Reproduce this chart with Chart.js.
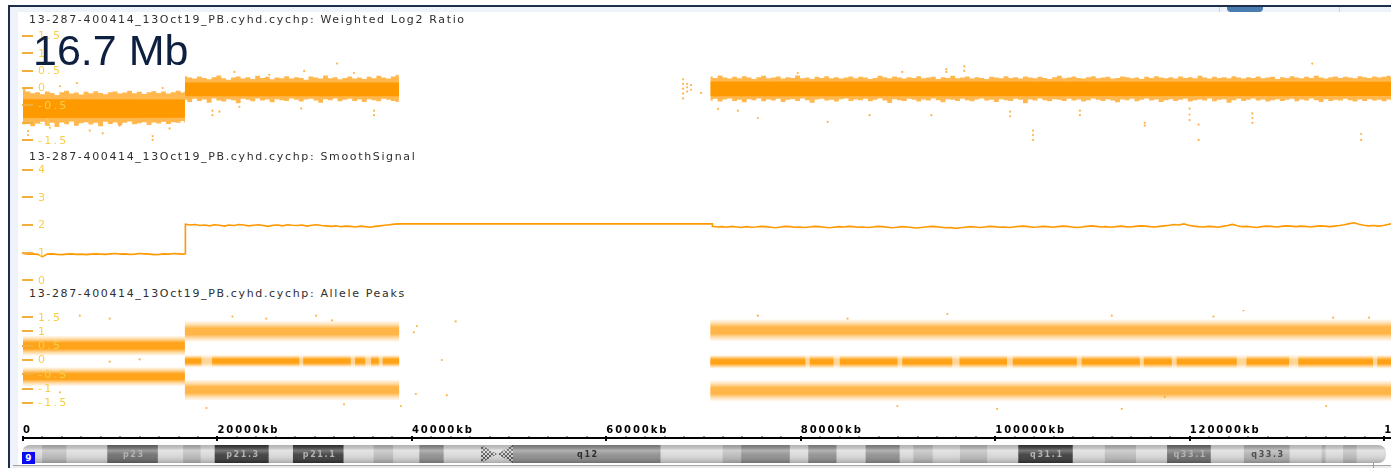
<!DOCTYPE html>
<html lang="en">
<head>
<meta charset="utf-8">
<title>Chromosome 9 – cychp tracks</title>
<script src="https://cdn.jsdelivr.net/npm/chart.js@4.4.1/dist/chart.umd.min.js"></script>
<style>
  html, body { margin:0; padding:0; background:#fff; }
  body { width:1391px; height:468px; overflow:hidden; position:relative; }
  .abs { position:absolute; }
  canvas { position:absolute; left:0; z-index:1; }
  .title { position:absolute; left:29px; z-index:3; font-family:"DejaVu Sans",sans-serif; font-size:11px;
           line-height:11px; color:#2e2e2e; white-space:nowrap; }
  .size-label { position:absolute; left:33px; top:29px; z-index:3; font-family:"Liberation Sans",Arial,sans-serif;
           font-size:43px; line-height:43px; color:#0e2040; white-space:nowrap; }
  .chr-badge { position:absolute; left:22px; top:452px; width:13px; height:12px; z-index:3; background:#0a0af2;
           color:#fff; font:bold 9px "DejaVu Sans",sans-serif; line-height:12px; text-align:center; }
</style>
</head>
<body>
  <!-- window frame -->
  <div class="abs" style="left:8px;top:5px;width:1383px;height:2px;background:#1d2d4a"></div>
  <div class="abs" style="left:9px;top:7px;width:1382px;height:5px;background:#edf3f9"></div>
  <div class="abs" style="left:1219px;top:7px;width:1px;height:5px;background:#c9d2dc"></div>
  <div class="abs" style="left:1339px;top:7px;width:1px;height:5px;background:#c9d2dc"></div>
  <div class="abs" style="left:1227px;top:7px;width:36px;height:5px;background:#4b7caf;border-radius:0 0 4px 4px"></div>
  <div class="abs" style="left:8px;top:5px;width:2px;height:463px;background:#1d2d4a"></div>
  <div class="abs" style="left:10px;top:12px;width:8px;height:456px;background:#edf3f9"></div>
  <div class="abs" style="left:13px;top:465px;width:1378px;height:1px;background:#a3a3a3"></div>
  <div class="abs" style="left:13px;top:466px;width:1378px;height:2px;background:#ececec"></div>
  <div class="abs" style="left:1373px;top:461px;width:1px;height:7px;background:#9a9a9a"></div>

  <canvas id="log2"   width="1396" height="130" style="top:23px"></canvas>
  <canvas id="smooth" width="1396" height="122" style="top:164px"></canvas>
  <canvas id="allele" width="1396" height="108" style="top:306px"></canvas>
  <canvas id="axis"   width="1396" height="23"  style="top:418px"></canvas>
  <canvas id="ideo"   width="1396" height="24"  style="top:442px"></canvas>

  <div class="title" style="top:14px">13-287-400414_13Oct19_PB.cyhd.cychp: Weighted Log2 Ratio</div>
  <div class="title" style="top:151px">13-287-400414_13Oct19_PB.cyhd.cychp: SmoothSignal</div>
  <div class="title" style="top:288px">13-287-400414_13Oct19_PB.cyhd.cychp: Allele Peaks</div>
  <div class="size-label">16.7 Mb</div>
  <div class="chr-badge">9</div>

<script>
// ---------------- chromosome 9 coordinates (kb) ----------------
const CHROM_END_KB = 141213;
const segStartKb = [0, 16700, 70900];          // copy-number segments
const segEndKb   = [16700, 38800, 141213];
const SAMPLE_STEP_KB = 500;                     // spacing of the envelope / smooth samples

// ---------------- Weighted Log2 Ratio ----------------
// dense core of the probe cloud per segment: [value at start, value at end]
const log2CoreHi = [[-0.32, -0.33], [0.16, 0.16], [0.19, 0.18]];
const log2CoreLo = [[-0.86, -0.85], [-0.24, -0.24], [-0.24, -0.23]];
// outer envelope of the cloud, one value per 500 kb sample
const log2FringeHi = [
  [-0.02,-0.1,-0.15,-0.12,-0.18,-0.1,-0.14,-0.2,-0.12,-0.08,-0.16,-0.13,-0.19,-0.11,-0.15,-0.09,-0.14,-0.18,-0.12,-0.1,
   -0.16,-0.13,-0.08,-0.15,-0.11,-0.17,-0.12,-0.09,-0.14,-0.1,-0.16,-0.12,-0.08,-0.13,-0.1],
  [0.34,0.3,0.27,0.33,0.29,0.25,0.31,0.36,0.28,0.24,0.3,0.33,0.27,0.31,0.26,0.35,0.29,0.32,0.25,0.3,0.28,0.34,0.27,
   0.31,0.29,0.24,0.33,0.3,0.27,0.36,0.28,0.31,0.25,0.29,0.33,0.27,0.3,0.26,0.32,0.28,0.35,0.3,0.27,0.33,0.38,0.3],
  [0.33,0.29,0.36,0.3,0.27,0.32,0.28,0.34,0.3,0.26, 0.31,0.35,0.28,0.3,0.33,0.27,0.31,0.29,0.36,0.28,
   0.3,0.26,0.32,0.29,0.34,0.28,0.31,0.27,0.3,0.33, 0.28,0.32,0.3,0.26,0.29,0.35,0.31,0.28,0.33,0.3,
   0.27,0.31,0.29,0.34,0.28,0.3,0.32,0.26,0.31,0.29, 0.35,0.28,0.3,0.33,0.27,0.31,0.29,0.26,0.32,0.3,
   0.28,0.34,0.29,0.31,0.27,0.33,0.3,0.28,0.32,0.29, 0.26,0.31,0.35,0.28,0.3,0.33,0.29,0.27,0.31,0.34,
   0.28,0.3,0.32,0.27,0.29,0.33,0.31,0.28,0.3,0.26, 0.32,0.29,0.34,0.3,0.28,0.31,0.27,0.33,0.29,0.31,
   0.28,0.35,0.3,0.27,0.32,0.29,0.31,0.28,0.34,0.3, 0.27,0.31,0.29,0.33,0.28,0.3,0.32,0.26,0.31,0.29,
   0.34,0.3,0.28,0.32,0.29,0.35,0.3,0.27,0.31,0.33, 0.29,0.32,0.3,0.28,0.34,0.31,0.29,0.33,0.3,0.32, 0.35,0.31]
];
const log2FringeLo = [
  [-1.05,-0.98,-1.1,-1.02,-0.97,-1.06,-1.0,-1.12,-0.99,-1.04,-0.96,-1.08,-1.01,-0.98,-1.05,-1.0,-1.1,-0.97,-1.03,-0.99,
   -1.07,-1.0,-0.96,-1.04,-1.01,-0.98,-1.06,-0.99,-1.02,-0.97,-1.03,-0.98,-1.0,-0.95,-0.99],
  [-0.34,-0.4,-0.31,-0.37,-0.33,-0.42,-0.3,-0.36,-0.39,-0.32,-0.35,-0.44,-0.31,-0.34,-0.38,-0.3,-0.36,-0.33,-0.41,-0.32,
   -0.35,-0.37,-0.3,-0.34,-0.39,-0.33,-0.31,-0.36,-0.42,-0.32,-0.35,-0.3,-0.38,-0.34,-0.31,-0.37,-0.33,-0.4,-0.32,-0.35,
   -0.38,-0.31,-0.34,-0.37,-0.4,-0.33],
  [-0.36,-0.31,-0.39,-0.33,-0.3,-0.37,-0.34,-0.41,-0.32,-0.35, -0.3,-0.38,-0.33,-0.36,-0.31,-0.4,-0.34,-0.32,-0.37,-0.3,
   -0.35,-0.42,-0.33,-0.31,-0.36,-0.34,-0.39,-0.32,-0.3,-0.37, -0.33,-0.35,-0.31,-0.38,-0.34,-0.3,-0.36,-0.43,-0.32,-0.35,
   -0.37,-0.31,-0.34,-0.39,-0.33,-0.36,-0.3,-0.35,-0.41,-0.32, -0.34,-0.37,-0.31,-0.35,-0.38,-0.33,-0.3,-0.36,-0.34,-0.4,
   -0.32,-0.35,-0.37,-0.31,-0.34,-0.44,-0.33,-0.36,-0.3,-0.35, -0.38,-0.32,-0.34,-0.37,-0.31,-0.36,-0.33,-0.39,-0.35,-0.3,
   -0.34,-0.37,-0.32,-0.36,-0.41,-0.33,-0.35,-0.31,-0.38,-0.34, -0.3,-0.36,-0.33,-0.4,-0.35,-0.32,-0.37,-0.34,-0.31,-0.39,
   -0.35,-0.33,-0.36,-0.3,-0.38,-0.34,-0.32,-0.42,-0.35,-0.31, -0.37,-0.34,-0.3,-0.36,-0.33,-0.39,-0.35,-0.32,-0.37,-0.34,
   -0.31,-0.38,-0.33,-0.36,-0.3,-0.35,-0.4,-0.32,-0.37,-0.34, -0.36,-0.31,-0.35,-0.39,-0.33,-0.37,-0.32,-0.36,-0.34,-0.38,
   -0.33,-0.36]
];
// isolated probes outside the main cloud: [kb, log2 ratio]
const log2Outliers = [
  [514,-1.35],[514,-1.24],[2777,-1.14],[3805,0.05],[5554,0.14],[6891,-1.22],[8228,-1.3],[9977,-1.08],
  [13370,-1.49],[13370,-1.38],[14399,0.0],[15119,-1.16],
  [19541,-0.78],[19541,-0.65],[20261,-0.68],[21804,0.46],[22318,-0.54],[25404,0.38],[28695,-0.59],[29004,0.49],
  [32398,0.7],[34146,0.43],[36203,-0.78],[36203,-0.65],
  [68087,0.25],[68087,0.12],[68087,-0.02],[68087,-0.16],[68087,-0.3],[68499,0.12],[68499,0.02],[68499,-0.1],
  [68910,0.08],[68910,-0.05],[69938,-0.14],
  [71700,-0.6],[73745,-0.65],[75800,-0.86],[79915,0.43],[83000,-0.97],[87320,-0.78],[90700,0.46],[93696,-0.78],
  [95239,0.54],[95239,0.46],[97090,0.62],[97090,0.49],[101822,-0.68],[101822,-0.81],[104187,-1.22],[104187,-1.35],
  [104187,-1.49],[109021,-0.78],[109021,-0.65],[115707,-1.0],[115707,-1.08],[120336,-0.59],[120336,-0.76],
  [120336,-0.92],[121261,-1.05],[121261,-1.49],[126815,-0.73],[126815,-0.86],[126815,-1.0],[132987,0.7],
  [138026,-1.32],[138026,-1.49]
];
const log2TickValues = [1.5, 1, 0.5, 0, -0.5, -1, -1.5];
const log2TickLabels = ['1.5', '1', '0.5', '0', '-0.5', '-1', '-1.5'];

// ---------------- SmoothSignal (copy number) ----------------
const smoothSeg = [
  [0.97,0.95,0.96,0.94,0.86,0.95,0.96,0.94,0.93,0.95,0.96,0.94,0.95,0.93,0.95,0.96,0.95,0.94,0.96,0.97,
   0.95,0.96,0.94,0.95,0.97,0.96,0.95,0.93,0.94,0.96,0.95,0.97,0.96,0.95,0.96],
  [2.03,2.0,2.02,1.98,2.0,1.97,2.01,1.99,1.96,2.0,1.98,2.02,2.0,1.97,1.99,2.01,1.98,1.95,1.99,2.0,1.97,2.01,1.99,
   1.98,2.0,1.96,1.99,2.01,1.98,1.97,1.95,1.97,1.94,1.96,1.95,1.93,1.96,1.94,1.92,1.95,1.97,1.99,2.01,2.03,2.04,2.04],
  [1.95,1.93,1.94,1.92,1.95,1.93,1.91,1.94,1.92,1.93, 1.95,1.94,1.92,1.9,1.93,1.95,1.94,1.92,1.93,1.91,
   1.93,1.95,1.94,1.92,1.9,1.92,1.94,1.93,1.95,1.94, 1.92,1.93,1.91,1.93,1.95,1.94,1.92,1.9,1.92,1.94,
   1.93,1.91,1.89,1.91,1.93,1.95,1.94,1.92,1.9,1.91, 1.88,1.9,1.92,1.94,1.93,1.91,1.93,1.95,1.94,1.92,
   1.93,1.91,1.93,1.95,1.96,1.94,1.92,1.93,1.95,1.94, 1.92,1.94,1.96,1.95,1.93,1.91,1.93,1.95,1.97,1.95,
   1.93,1.94,1.92,1.94,1.96,1.94,1.93,1.95,1.97,1.96, 1.94,1.93,1.95,1.97,1.99,2.02,2.0,2.04,1.99,1.96,
   1.94,1.93,1.95,1.94,1.92,1.95,1.98,2.02,1.97,1.94, 1.95,1.93,1.91,1.94,1.96,1.95,1.93,1.95,1.97,1.96,
   1.94,1.96,1.95,1.93,1.95,1.97,1.96,1.94,1.96,1.98, 2.01,2.05,2.08,2.03,1.99,1.97,1.98,1.96,1.98,2.02,
   2.06,2.07]
];
// no probes across the pericentromeric gap: the signal holds a constant value there
const smoothGapKb  = [38800, 70900];
const smoothGapVal = [2.04, 2.04];
const smoothTickValues = [4, 3, 2, 1, 0];
const smoothTickLabels = ['4', '3', '2', '1', '0'];

// ---------------- Allele Peaks ----------------
// one entry per allele band: segment index, band centre and half spread
const alleleBandSeg    = [0, 0, 1, 1, 1, 2, 2, 2];
const alleleBandKind   = ['het', 'het', 'outer', 'mid', 'outer', 'outer', 'mid', 'outer'];
const alleleBandCenter = [0.5, -0.58, 1.0, -0.04, -1.05, 1.04, -0.06, -1.08];
const alleleBandHalf   = [0.36, 0.34, 0.38, 0.24, 0.38, 0.4, 0.26, 0.38];
// sparse stretches in the central (AB) band, kb
const alleleMidGapsKb = [
  [18400,19500],[28500,28900],[33800,34250],[35300,35900],[36700,37100],
  [80700,81150],[83600,84250],[90200,90700],[95850,96600],[101500,102100],[108700,109200],
  [115200,115600],[118500,119000],[125200,126200],[130600,131550],[139250,139700]
];
const alleleOutliers = [
  [5862,1.55],[8948,1.45],[3805,-1.13],[8950,-0.06],[12030,0.02],
  [21599,1.52],[25095,1.45],[30238,1.55],[31884,1.39],[18925,-1.68],[26124,-1.84],[33118,-1.55],
  [40318,0.97],[40626,1.19],[43197,0.0],[43711,-1.23],[44637,1.35],[38980,-1.61],[40523,-1.19],
  [75800,1.55],[85057,1.45],[95342,1.61],[90199,-1.61],[100484,-1.71],
  [112312,1.55],[125888,1.74],[122803,1.52],[135144,1.48],[138847,1.48],[113340,-1.71],[117763,-1.29],[134423,-1.61]
];
const alleleTickValues = [1.5, 1, 0.5, 0, -0.5, -1, -1.5];
const alleleTickLabels = ['1.5', '1', '0.5', '0', '-0.5', '-1', '-1.5'];

// ---------------- position axis ----------------
const axisMinorStepKb = 2000;
const axisLabelStepKb = 20000;
const axisLastTickKb = 140000;

// ---------------- cytobands ----------------
const bandStartKb = [0,2000,4500,8700,13900,16500,18300,19750,25300,27800,33000,36100,38100,40800,43300,47100,50400,
  65600,72000,73900,78900,80800,83700,86700,90200,91600,93600,96400,99200,102400,108000,111300,114500,117700,122200,
  125600,130300,133600,134000,135800,137200];
const bandEndKb = [2000,4500,8700,13900,16500,18300,19750,25300,27800,33000,36100,38100,40800,43300,47100,50400,65600,
  72000,73900,78900,80800,83700,86700,90200,91600,93600,96400,99200,102400,108000,111300,114500,117700,122200,125600,
  130300,133600,134000,135800,137200,140200];
const bandStain = ['gneg','gpos25','gneg','gpos75','gneg','gpos25','gneg','gpos100','gneg','gpos100','gneg','gpos25',
  'gneg','gpos50','gneg','acen','gvar','gneg','gpos25','gpos50','gneg','gpos50','gneg','gpos50','gneg','gpos25','gneg',
  'gpos25','gneg','gpos100','gneg','gpos25','gneg','gpos75','gneg','gpos33','gneg','gpos25','gneg','gpos25','gneg'];
const bandName = ['','','','p23','','','','p21.3','','p21.1','','','','','','','q12','','','','','','','','','','','',
  '','q31.1','','','','q33.1','','q33.3','','','','',''];

// ---------------- styling ----------------
const ORANGE = '#ff9900';
const FRINGE = 'rgba(255,155,10,0.72)';
const OUTLIER = 'rgba(255,160,30,0.8)';
const TICK_DASH = '#f2ae3c';
const TICK_TEXT = '#f6cf4c';
const GRID_DOT = '#fce6a0';
const ZERO_LINE = '#b6b6b6';
const STAIN_COLOR = { gneg:'#d7d7d7', gpos25:'#b9b9b9', gpos33:'#acacac', gpos50:'#8e8e8e', gpos75:'#6b6b6b',
  gpos100:'#383838', gvar:'#8c8c8c', acen:'#d7d7d7' };
const STAIN_TEXT = { gpos75:'#b3b3b3', gpos100:'#b3b3b3', gvar:'#2f2f2f', gpos33:'#505050' };
const BAND_ALPHA = { het:1.0, outer:0.8, mid:0.95 };
const MID_BASE_ALPHA = 0.45;
const PAD_LEFT = 23;
const IDEO_H = 18;
const TITLE_INK_WIDTH = 435;

// ---------------- helpers ----------------
function segSeries(seg, vals, step) {
  const s = segStartKb[seg], e = segEndKb[seg];
  return vals.map((v, i) => ({ x: Math.min(s + i * step, e), y: v }));
}
function segEnds(seg, pair) {
  return [{ x: segStartKb[seg], y: pair[0] }, { x: segEndKb[seg], y: pair[1] }];
}
function fillPair(loPts, hiPts, color, stepped) {
  return [
    { type:'line', data: loPts, borderWidth: 0, borderColor: 'rgba(0,0,0,0)', backgroundColor: 'rgba(0,0,0,0)',
      pointRadius: 0, fill: false, stepped: stepped || false },
    { type:'line', data: hiPts, borderWidth: 0, borderColor: 'rgba(0,0,0,0)', backgroundColor: color,
      pointRadius: 0, fill: '-1', stepped: stepped || false }
  ];
}
function pointsOf(list) { return list.map(([x, y]) => ({ x, y })); }

function xHidden() { return { type:'linear', min:0, max:CHROM_END_KB, bounds:'data', display:false }; }

function tickLabelPlugin(values, labels) {
  return {
    id: 'trackTicks',
    afterDatasetsDraw(chart) {
      const { ctx, chartArea, scales: { y } } = chart;
      ctx.save();
      ctx.font = '11px "DejaVu Sans"';
      ctx.letterSpacing = '2.3px';
      ctx.textBaseline = 'middle';
      ctx.textAlign = 'left';
      values.forEach((v, i) => {
        const py = y.getPixelForValue(v);
        ctx.fillStyle = TICK_DASH;
        ctx.fillRect(chartArea.left - 1, Math.round(py) - 1, 11, 2);
        ctx.fillStyle = TICK_TEXT;
        ctx.fillText(labels[i], chartArea.left + 15, py + 0.5);
      });
      ctx.restore();
    }
  };
}

function baseOptions(yCfg) {
  return {
    responsive: false, animation: false, events: [], devicePixelRatio: 1,
    layout: { padding: { left: PAD_LEFT, right: 0, top: 0, bottom: 0 } },
    plugins: { legend: { display: false }, tooltip: { enabled: false }, colors: { enabled: false } },
    scales: { x: xHidden(), y: yCfg }
  };
}

// ---------------- Weighted Log2 Ratio track ----------------
(function () {
  const sets = [{
    type: 'scatter', data: pointsOf(log2Outliers), pointRadius: 1.1, pointBackgroundColor: OUTLIER,
    pointBorderWidth: 0, showLine: false
  }];
  for (let s = 0; s < 3; s++) sets.push(...fillPair(segEnds(s, log2CoreLo[s]), segEnds(s, log2CoreHi[s]), ORANGE));
  for (let s = 0; s < 3; s++) sets.push(...fillPair(
    segSeries(s, log2FringeLo[s], SAMPLE_STEP_KB), segSeries(s, log2FringeHi[s], SAMPLE_STEP_KB), FRINGE, 'middle'));

  new Chart(document.getElementById('log2'), {
    type: 'line',
    data: { datasets: sets },
    options: baseOptions({
      type: 'linear', min: -1.75, max: 1.75, bounds: 'data', display: true,
      ticks: { display: false, stepSize: 0.5, includeBounds: false },
      grid: { drawTicks: false, lineWidth: 2,
              color: (c) => (c.tick && c.tick.value === 0 ? ZERO_LINE : 'rgba(0,0,0,0)') },
      border: { display: false },
      afterFit: (s) => { s.width = 0; }
    }),
    plugins: [tickLabelPlugin(log2TickValues, log2TickLabels)]
  });
})();

// ---------------- SmoothSignal track ----------------
(function () {
  const pts = [
    ...segSeries(0, smoothSeg[0], SAMPLE_STEP_KB),
    ...segSeries(1, smoothSeg[1], SAMPLE_STEP_KB),
    ...smoothGapKb.map((x, i) => ({ x, y: smoothGapVal[i] })),
    ...segSeries(2, smoothSeg[2], SAMPLE_STEP_KB)
  ];
  new Chart(document.getElementById('smooth'), {
    type: 'line',
    data: { datasets: [{ data: pts, borderColor: ORANGE, borderWidth: 1.6, pointRadius: 0, fill: false }] },
    options: baseOptions({
      type: 'linear', min: -0.2, max: 4.2, bounds: 'data', display: true,
      ticks: { display: false, stepSize: 1, includeBounds: false },
      grid: { drawTicks: false, lineWidth: 2,
              color: (c) => (c.tick && Number.isInteger(c.tick.value) ? GRID_DOT : 'rgba(0,0,0,0)') },
      border: { display: false, dash: [2, 12], dashOffset: 1.7 },
      afterFit: (s) => { s.width = 0; }
    }),
    plugins: [tickLabelPlugin(smoothTickValues, smoothTickLabels)]
  });
})();

// ---------------- Allele Peaks track ----------------
(function () {
  function bandGradient(chart, c, h, a) {
    const y = chart.scales.y;
    const top = y.getPixelForValue(c + h), bot = y.getPixelForValue(c - h);
    const g = chart.ctx.createLinearGradient(0, top, 0, bot);
    const col = (k) => 'rgba(255,153,0,' + (a * k).toFixed(3) + ')';
    g.addColorStop(0, col(0)); g.addColorStop(0.18, col(0.38)); g.addColorStop(0.36, col(0.9));
    g.addColorStop(0.64, col(0.9)); g.addColorStop(0.82, col(0.38)); g.addColorStop(1, col(0));
    return g;
  }
  function bandLine(pts, c, h, a) {
    return {
      type: 'line', data: pts, pointRadius: 0, fill: false, borderCapStyle: 'butt',
      borderWidth: (ctx) => {
        const y = ctx.chart.scales.y;
        return y ? Math.abs(y.getPixelForValue(c - h) - y.getPixelForValue(c + h)) : 1;
      },
      borderColor: (ctx) => (ctx.chart.chartArea ? bandGradient(ctx.chart, c, h, a) : 'rgba(0,0,0,0)')
    };
  }
  function bandSets(i) {
    const seg = alleleBandSeg[i], c = alleleBandCenter[i], h = alleleBandHalf[i];
    const kind = alleleBandKind[i], a = BAND_ALPHA[kind];
    const end = segEndKb[seg];
    let x = segStartKb[seg];
    const full = [{ x, y: c }, { x: end, y: c }];
    if (kind !== 'mid') return [bandLine(full, c, h, a)];
    const pts = [];
    alleleMidGapsKb.filter((g) => g[0] >= x && g[1] <= end).forEach((g) => {
      pts.push({ x, y: c }, { x: g[0], y: c }, { x: (g[0] + g[1]) / 2, y: null });
      x = g[1];
    });
    pts.push({ x, y: c }, { x: end, y: c });
    // dense stretches on top of a faint continuous cloud
    return [bandLine(pts, c, h * 0.85, a), bandLine(full, c, h, MID_BASE_ALPHA)];
  }
  const sets = [{
    type: 'scatter', data: pointsOf(alleleOutliers), pointRadius: 1.1, pointBackgroundColor: OUTLIER,
    pointBorderWidth: 0, showLine: false
  }];
  alleleBandCenter.forEach((_, i) => sets.push(...bandSets(i)));

  new Chart(document.getElementById('allele'), {
    type: 'line',
    data: { datasets: sets },
    options: baseOptions({ type: 'linear', min: -1.75, max: 1.75, bounds: 'data', display: false }),
    plugins: [tickLabelPlugin(alleleTickValues, alleleTickLabels)]
  });
})();

// ---------------- kb axis ----------------
(function () {
  const isLabelTick = (v) => v <= axisLastTickKb && v % axisLabelStepKb === 0;
  new Chart(document.getElementById('axis'), {
    type: 'line',
    data: { datasets: [] },
    options: {
      responsive: false, animation: false, events: [], devicePixelRatio: 1,
      layout: { padding: { left: PAD_LEFT, right: 0, top: 6, bottom: 0 } },
      plugins: { legend: { display: false }, tooltip: { enabled: false }, colors: { enabled: false } },
      scales: {
        x: {
          type: 'linear', position: 'top', min: 0, max: CHROM_END_KB, bounds: 'data',
          afterFit: (s) => { s.height = 14; },
          // a tick every 2000 kb from the chromosome start, closed by the chromosome end
          afterBuildTicks: (s) => {
            const t = [];
            for (let v = 0; v <= axisLastTickKb; v += axisMinorStepKb) t.push({ value: v });
            t.push({ value: CHROM_END_KB });
            s.ticks = t;
          },
          ticks: {
            autoSkip: false, maxRotation: 0, minRotation: 0,
            align: 'start', padding: 0, color: '#000',
            font: { family: 'DejaVu Sans', size: 10, weight: 'bold' },
            callback: (v) => (isLabelTick(v) ? (v === 0 ? '0' : v + 'kb') : '')
          },
          grid: {
            drawOnChartArea: true, drawTicks: true, tickLength: 2,
            color: (c) => (c.tick && isLabelTick(c.tick.value) ? '#000' : 'rgba(0,0,0,0)'),
            lineWidth: 2,
            tickColor: (c) => (c.tick && isLabelTick(c.tick.value) ? '#000' : '#3a3a3a'),
            tickWidth: (c) => (c.tick && isLabelTick(c.tick.value) ? 2 : 1)
          },
          border: { display: true, color: '#000', width: 2 }
        },
        y: { display: false }
      }
    },
    plugins: [{ id: 'labelSpacing', beforeDraw(chart) { chart.ctx.letterSpacing = '1.9px'; } }]
  });
})();

// ---------------- ideogram ----------------
(function () {
  function capsule(ctx, x0, top, w, h, r) {
    ctx.beginPath();
    ctx.moveTo(x0 + r, top);
    ctx.lineTo(x0 + w - r, top);
    ctx.arcTo(x0 + w, top, x0 + w, top + r, r);
    ctx.lineTo(x0 + w, top + h - r);
    ctx.arcTo(x0 + w, top + h, x0 + w - r, top + h, r);
    ctx.lineTo(x0 + r, top + h);
    ctx.arcTo(x0, top + h, x0, top + h - r, r);
    ctx.lineTo(x0, top + r);
    ctx.arcTo(x0, top, x0 + r, top, r);
    ctx.closePath();
  }
  function hatch(ctx) {
    const p = document.createElement('canvas');
    p.width = 4; p.height = 4;
    const g = p.getContext('2d');
    g.fillStyle = '#cfcfcf'; g.fillRect(0, 0, 4, 4);
    g.strokeStyle = '#505050'; g.lineWidth = 1;
    g.beginPath(); g.moveTo(0, 4); g.lineTo(4, 0); g.moveTo(0, 0); g.lineTo(4, 4); g.stroke();
    return ctx.createPattern(p, 'repeat');
  }
  const ideoPlugin = {
    id: 'ideogram',
    beforeDatasetsDraw(chart) {
      const { ctx, scales: { x, y } } = chart;
      const x0 = x.getPixelForValue(bandStartKb[0]);
      const x1 = x.getPixelForValue(bandEndKb[bandEndKb.length - 1]);
      const top = y.getPixelForValue(0) - IDEO_H / 2;
      ctx.save();
      capsule(ctx, x0 - 1, top, x1 - x0 + 1, IDEO_H, 8);
      ctx.clip();
    },
    afterDatasetsDraw(chart) {
      const { ctx, scales: { x, y } } = chart;
      const yc = y.getPixelForValue(0), top = yc - IDEO_H / 2, bot = yc + IDEO_H / 2;
      // centromere
      bandStain.forEach((s, i) => {
        if (s !== 'acen') return;
        const a = x.getPixelForValue(bandStartKb[i]), b = x.getPixelForValue(bandEndKb[i]), m = (a + b) / 2;
        ctx.beginPath();
        ctx.moveTo(a, top); ctx.lineTo(m, yc); ctx.lineTo(b, top);
        ctx.lineTo(b, bot); ctx.lineTo(m, yc); ctx.lineTo(a, bot); ctx.closePath();
        ctx.fillStyle = hatch(ctx);
        ctx.fill();
      });
      // rounded shading
      const g = ctx.createLinearGradient(0, top, 0, bot);
      g.addColorStop(0, 'rgba(0,0,0,0.16)');
      g.addColorStop(0.3, 'rgba(255,255,255,0.32)');
      g.addColorStop(0.55, 'rgba(255,255,255,0.08)');
      g.addColorStop(1, 'rgba(0,0,0,0.22)');
      ctx.fillStyle = g;
      ctx.fillRect(x.getPixelForValue(0) - 1, top, x.getPixelForValue(CHROM_END_KB), IDEO_H);
      ctx.restore();
      // band names
      ctx.save();
      ctx.font = 'bold 8px "DejaVu Sans"';
      ctx.letterSpacing = '1.6px';
      ctx.textAlign = 'center';
      ctx.textBaseline = 'middle';
      bandName.forEach((n, i) => {
        if (!n) return;
        const cx = (x.getPixelForValue(bandStartKb[i]) + x.getPixelForValue(bandEndKb[i])) / 2;
        ctx.fillStyle = STAIN_TEXT[bandStain[i]] || '#444';
        ctx.fillText(n, cx + 1, yc + 0.5);
      });
      ctx.restore();
    }
  };
  new Chart(document.getElementById('ideo'), {
    type: 'bar',
    data: {
      datasets: [{
        data: bandStartKb.map((s, i) => ({ x: [s, bandEndKb[i]], y: 0 })),
        backgroundColor: bandStain.map((s) => STAIN_COLOR[s]),
        borderWidth: 0, barThickness: IDEO_H, borderSkipped: false
      }]
    },
    options: {
      indexAxis: 'y', responsive: false, animation: false, events: [], devicePixelRatio: 1,
      layout: { padding: { left: PAD_LEFT, right: 0, top: 3, bottom: 3 } },
      plugins: { legend: { display: false }, tooltip: { enabled: false }, colors: { enabled: false } },
      scales: {
        x: xHidden(),
        y: { type: 'linear', min: -1, max: 1, display: false }
      }
    },
    plugins: [ideoPlugin]
  });
})();

// track titles: spread the glyphs to the header width
(function () {
  const titles = document.querySelectorAll('.title');
  const ref = titles[0];
  const w = ref.getBoundingClientRect().width;
  const n = ref.textContent.length;
  const sp = Math.max(0, (TITLE_INK_WIDTH - w) / (n - 1));
  titles.forEach((t) => { t.style.letterSpacing = sp.toFixed(2) + 'px'; });
})();
</script>
</body>
</html>
